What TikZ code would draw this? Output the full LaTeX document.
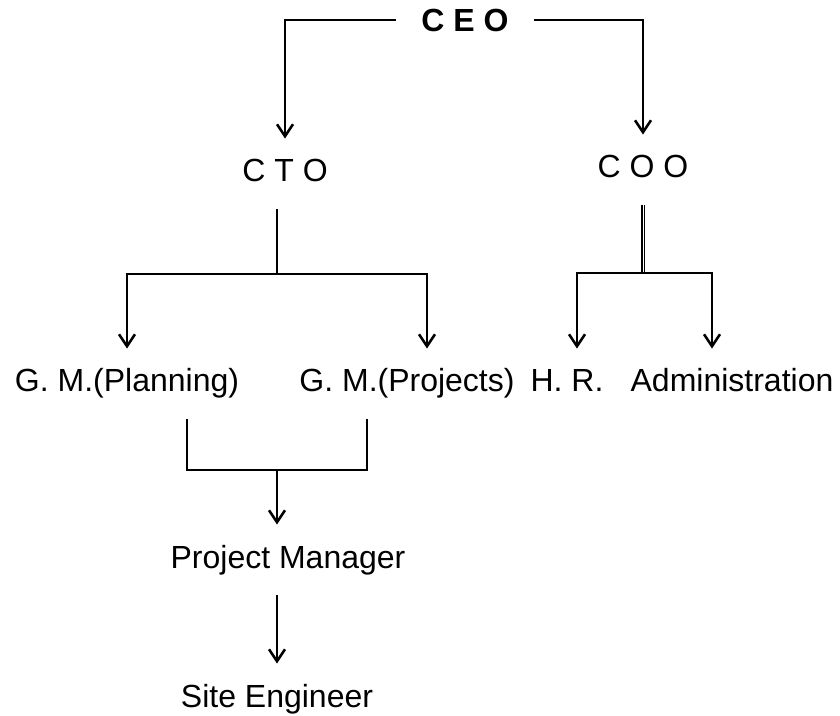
\documentclass[tikz,border=0pt]{standalone}
\usepackage{fontspec}
\setmainfont{Liberation Sans}
\usetikzlibrary{arrows.meta}
\tikzstyle{post}=[font=\fontsize{16}{19}\selectfont,inner xsep=0pt,inner ysep=10pt,text height=11.5pt,text depth=3.4pt,anchor=base]
\tikzstyle{head}=[post,font=\fontsize{16}{19}\selectfont\bfseries,inner xsep=12.5pt,text depth=0pt]
\tikzstyle{link}=[draw,line width=1pt]
\tikzstyle{arrow link}=[link,-{Straight Barb[length=6pt,width=8pt,line width=1.3pt]}]
\tikzstyle{double link}=[draw,line width=0.8pt,double,double distance=0.5pt]

\begin{document}
\begin{tikzpicture}[x=0.5pt,y=-0.5pt]
	\useasboundingbox (0,0) rectangle (840,716);
	% First we place the posts
	\node[head] (ceo) at (465,32) {C E O};
	\foreach \pos/\name/\text in {{(285,182)/cto/C T O}, {(643,178)/coo/C O O},
			{(127,392)/gmplan/G. M.(Planning)}, {(407,392)/gmproj/G. M.(Projects)},
			{(567,392)/hr/H. R.}, {(732,392)/admin/Administration},
			{(288,568)/pm/Project Manager}, {(277,707)/se/Site Engineer}}
		\node[post] (\name) at \pos {\text};
	\coordinate (ctosplit) at (277,274);
	\coordinate (coosplit) at (643,273);
	\coordinate (gmjoin) at (277,470);

	% Connect the posts
	\path[arrow link] (ceo.west) -| (cto.north);
	\path[arrow link] (ceo.east) -| (coo.north);
	\path[link] (cto.south -| ctosplit) -- (ctosplit);
	\path[arrow link] (ctosplit) -| (gmplan.north);
	\path[arrow link] (ctosplit) -| ([xshift=10pt]gmproj.north);
	\path[double link] (coo.south) -- (coosplit);
	\path[arrow link] (coosplit) -| ([xshift=5pt]hr.north);
	\path[arrow link] (coosplit) -| ([xshift=-10pt]admin.north);
	\path[link] ([xshift=30pt]gmplan.south) |- (gmjoin) -| ([xshift=-20pt]gmproj.south);
	\path[arrow link] (gmjoin) -- (gmjoin |- pm.north);
	\path[arrow link,line width=0.7pt] (pm.south -| se.north) -- (se.north);
\end{tikzpicture}
\end{document}
